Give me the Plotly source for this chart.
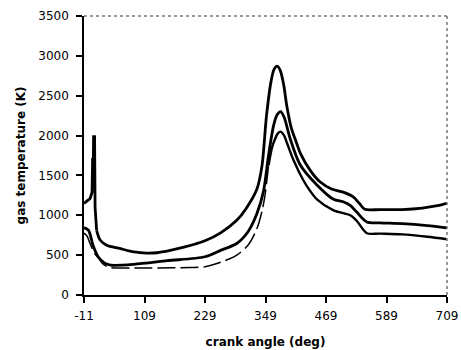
import plotly.graph_objects as go

# crank angle (deg) and gas temperature (K) for the three curves
angle_a = [-11, -5, 1, 5, 6, 7.5, 8, 10, 11, 14, 21, 34, 60, 88, 113, 134, 160, 187, 210, 229,
           260, 292, 310, 332, 342, 351, 360, 366, 372, 378, 385, 391, 400, 411, 418, 437, 457,
           480, 503, 523, 535, 546, 576, 620, 660, 690, 709]
temp_a = [1150, 1180, 1210, 1290, 1700, 1700, 1985, 1985, 1100, 812, 690, 625, 584, 540, 525, 530, 560, 600, 640, 680,
          780, 937, 1080, 1330, 1620, 2250, 2680, 2830, 2870, 2820, 2640, 2380, 2100, 1900, 1780, 1570, 1420,
          1330, 1290, 1230, 1150, 1075, 1072, 1072, 1090, 1120, 1150]

angle_b = [-11, -2, 7, 17, 30, 42, 88, 154, 229, 260, 292, 315, 332, 345, 355, 365, 372, 379, 386,
           398, 418, 451, 484, 503, 517, 530, 550, 576, 620, 670, 709]
temp_b = [845, 812, 620, 480, 400, 375, 385, 430, 480, 560, 646, 800, 1021, 1300, 1750, 2125, 2260, 2300, 2230,
          1960, 1630, 1380, 1200, 1170, 1125, 1040, 916, 905, 895, 870, 841]

angle_c = [-11, -5, 1, 10, 17, 25, 35, 43, 80, 120, 160, 200, 229, 260, 292, 315, 332, 342, 348, 355,
           362, 368, 374, 379, 386, 392, 404, 424, 437, 451, 484, 517, 530, 550, 576, 620, 670, 709]
temp_c = [775, 740, 646, 520, 470, 400, 355, 342, 340, 340, 341, 345, 354, 410, 500, 630, 834, 1050, 1250, 1625,
          1850, 1958, 2030, 2050, 2000, 1900, 1700, 1440, 1310, 1200, 1062, 1000, 930, 775, 770, 760, 730, 700]

x_ticks = [-11, 109, 229, 349, 469, 589, 709]
y_ticks = [0, 500, 1000, 1500, 2000, 2500, 3000, 3500]

spike_end = angle_a.index(14)
split = angle_c.index(355)

fig = go.Figure()
thick = dict(color="black", width=2.8)
fig.add_trace(go.Scatter(x=angle_a[:spike_end + 1], y=temp_a[:spike_end + 1], mode="lines",
                         line=thick))
fig.add_trace(go.Scatter(x=angle_a[spike_end:], y=temp_a[spike_end:], mode="lines",
                         line=dict(thick, shape="spline", smoothing=0.8)))
fig.add_trace(go.Scatter(x=angle_b, y=temp_b, mode="lines",
                         line=dict(thick, shape="spline", smoothing=0.8)))
fig.add_trace(go.Scatter(x=angle_c[:split + 1], y=temp_c[:split + 1], mode="lines",
                         line=dict(color="black", width=1.5, dash="18px,5px", shape="spline", smoothing=0.8)))
fig.add_trace(go.Scatter(x=angle_c[split:], y=temp_c[split:], mode="lines",
                         line=dict(color="black", width=2.4, shape="spline", smoothing=0.8)))

# dotted top and right frame
fig.add_shape(type="line", xref="paper", yref="paper", x0=0, x1=1, y0=1, y1=1,
              line=dict(color="#777777", width=1.5, dash="dot"))
fig.add_shape(type="line", xref="paper", yref="paper", x0=1, x1=1, y0=0, y1=1,
              line=dict(color="#777777", width=1.5, dash="dot"))

font_family = "DejaVu Sans"
fig.update_layout(
    width=461, height=350,
    margin=dict(l=84, r=14, t=16, b=55, autoexpand=False),
    paper_bgcolor="white", plot_bgcolor="white",
    showlegend=False,
    font=dict(family=font_family, color="black", size=12),
    xaxis=dict(
        range=[-11, 709], tickvals=x_ticks, ticktext=[str(v) for v in x_ticks],
        automargin=False,
        showgrid=False, zeroline=False, showline=True, linecolor="black", linewidth=1.5,
        ticks="outside", ticklen=6, tickwidth=1.5, tickcolor="black",
        tickfont=dict(family=font_family, size=12), ticklabelstandoff=3,
        title=dict(text="<b>crank angle (deg)</b>", font=dict(family=font_family, size=12), standoff=15),
    ),
    yaxis=dict(
        range=[0, 3500], tickvals=y_ticks,
        automargin=False,
        showgrid=False, zeroline=False, showline=True, linecolor="black", linewidth=1.5,
        ticks="outside", ticklen=6, tickwidth=1.5, tickcolor="black",
        tickfont=dict(family=font_family, size=12), ticklabelstandoff=5,
        title=dict(text="<b>gas temperature (K)</b>", font=dict(family=font_family, size=12), standoff=10),
    ),
)

fig.write_html("out.html")
